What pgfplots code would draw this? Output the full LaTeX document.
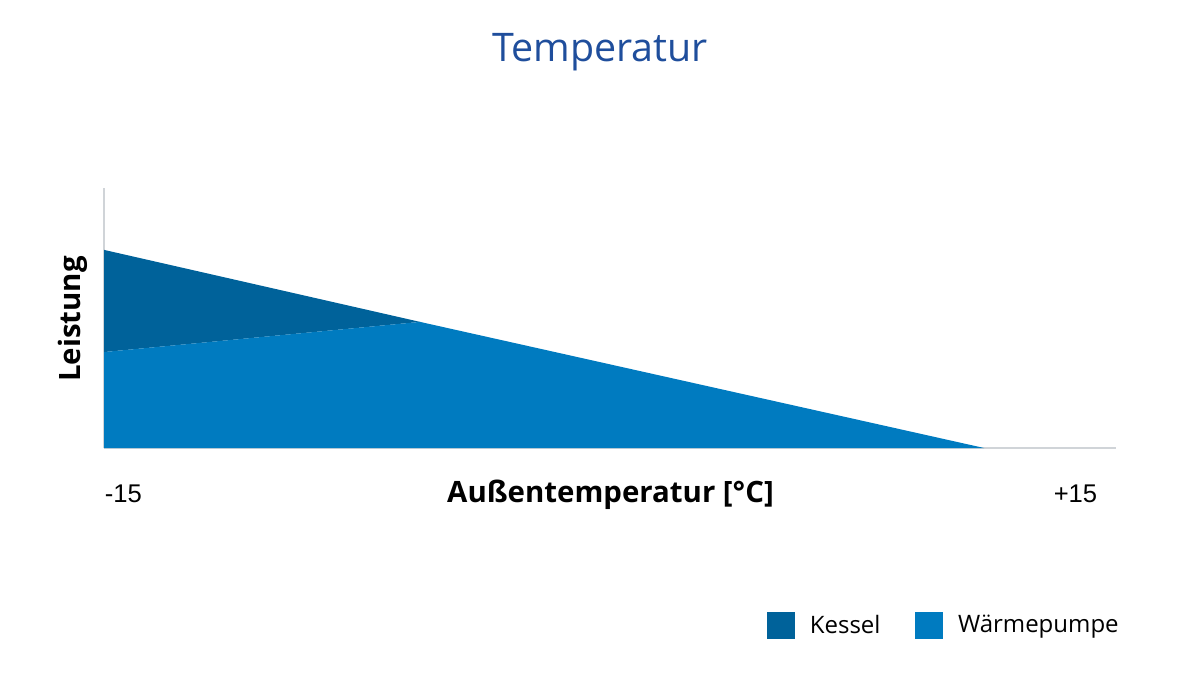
\documentclass[border=0pt]{standalone}
\usepackage{fontspec}
\setmainfont{Open Sans}
\newfontfamily\tickfont{Liberation Sans}
\usepackage{pgfplots}
\pgfplotsset{compat=1.18}
\definecolor{kessel}{HTML}{00629A}
\definecolor{wp}{HTML}{007BC0}
\definecolor{titleblue}{HTML}{1F4E9C}
\definecolor{axgray}{HTML}{D0D4D8}
\begin{document}
\begin{tikzpicture}
\path[use as bounding box] (0,0) rectangle (600pt,337.5pt);
\begin{axis}[
  at={(52pt,113.5pt)}, anchor=south west,
  width=506pt, height=130pt, scale only axis,
  xmin=-15, xmax=15, ymin=0, ymax=100,
  enlargelimits=false,
  axis x line=bottom, axis y line=left,
  axis line style={-, draw=axgray, line width=0.6pt},
  xtick=\empty, ytick=\empty,
  clip=false,
  legend style={at={(1.007,-0.683)}, anchor=east, draw=none, fill=none,
    inner sep=0pt, font=\fontsize{12pt}{14pt}\selectfont,
    /tikz/every even column/.append style={column sep=15.5pt}},
  legend columns=2,
  legend image code/.code={\fill[#1] (0pt,-6.75pt) rectangle (14pt,6.75pt); \path[draw=none,fill=none] (14pt,-0.1pt) rectangle (19.3pt,0.1pt);},
]
\addplot[fill=kessel, draw=none] coordinates {(-15,36.9) (-15,76.2) (-5.63,48.5)} -- cycle;
\addlegendentry{Kessel}
\addplot[fill=wp, draw=none] coordinates {(-15,0) (-15,36.9) (-5.63,48.5) (11.09,0)} -- cycle;
\addlegendentry{Wärmepumpe}
\end{axis}
\node[anchor=base, text=titleblue, font=\fontsize{19.7pt}{24pt}\selectfont] at (300pt,306.5pt) {Temperatur};
\node[anchor=base, font=\bfseries\fontsize{14.7pt}{18pt}\selectfont, inner sep=0pt] at (305.25pt,86pt) {Außentemperatur [°C]};
\node[anchor=base, rotate=90, font=\bfseries\fontsize{14.7pt}{18pt}\selectfont, inner sep=0pt] at (40pt,178pt) {Leistung};
\node[anchor=base west, font=\tickfont\fontsize{12.8pt}{14pt}\selectfont, inner sep=0pt] at (52.2pt,86pt) {-15};
\node[anchor=base east, font=\tickfont\fontsize{12.8pt}{14pt}\selectfont, inner sep=0pt] at (548.8pt,86pt) {+15};
\end{tikzpicture}
\end{document}
